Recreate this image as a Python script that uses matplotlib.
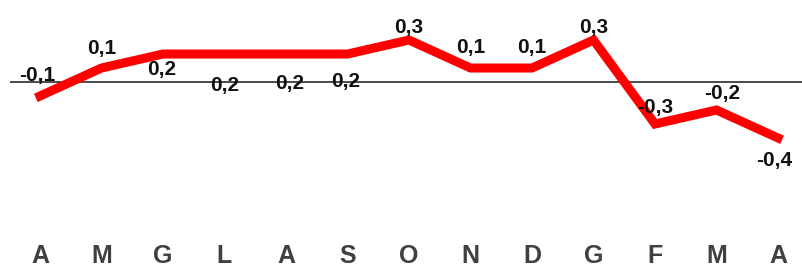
import matplotlib.pyplot as plt

months = ["A", "M", "G", "L", "A", "S", "O", "N", "D", "G", "F", "M", "A"]
values = [-0.1, 0.1, 0.2, 0.2, 0.2, 0.2, 0.3, 0.1, 0.1, 0.3, -0.3, -0.2, -0.4]
labels = ["-0,1", "0,1", "0,2", "0,2", "0,2", "0,2", "0,3", "0,1", "0,1", "0,3", "-0,3", "-0,2", "-0,4"]

# label offsets in points (dx, dy), placement only
offsets = [(-2, 15), (0, 14), (-1, -11), (0, -23), (3, -21), (-1, -20), (0, 9),
           (0, 15), (0, 15), (0, 9), (0, 12), (4, 12), (-3, -16)]

fig = plt.figure(figsize=(8.02, 2.68), dpi=100)
ax = fig.add_axes([0, 0, 1, 1])
x = list(range(len(months)))

ax.hlines(0, -0.49, 12.5, color="#3c3c3c", lw=1.3, zorder=1)
ax.plot(x, values, color="#ff0000", lw=6.5, solid_joinstyle="miter", zorder=2)

for i, (v, lab) in enumerate(zip(values, labels)):
    dx, dy = offsets[i]
    ax.annotate(lab, (i, v), xytext=(dx, dy), textcoords="offset points",
                ha="center", va="center", fontsize=15, fontweight="bold",
                family="Liberation Sans", color="#111111", zorder=3)

for i, m in enumerate(months):
    ax.text(i, -1.243, m, ha="center", va="center", fontsize=18,
            fontweight="bold", family="Liberation Sans", color="#404040")

ax.set_xlim(-0.65, 12.39)
ax.set_ylim(-1.329, 0.586)
ax.axis("off")
fig.savefig("out.png", dpi=100)
